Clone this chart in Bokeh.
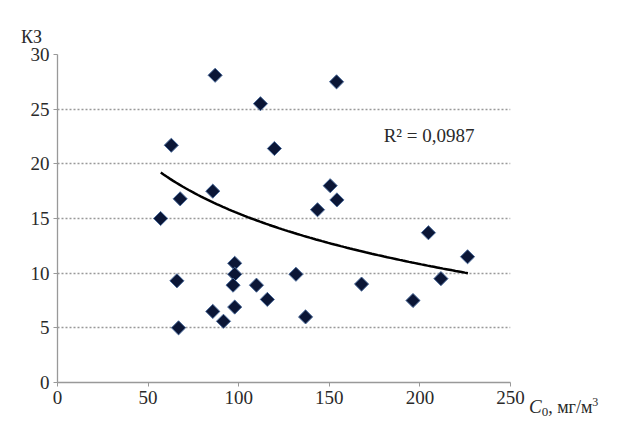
import numpy as np
from bokeh.plotting import figure
from bokeh.layouts import column
from bokeh.models import Label, ColumnDataSource, FixedTicker, Div
from bokeh.embed import file_html
from bokeh.resources import INLINE

# C0, mg/m3 and KZ values
c0 = [56.9, 62.8, 67.7, 65.9, 66.8, 87.0, 85.7, 85.7, 91.6, 97.8, 97.8, 96.9, 97.8,
      112.0, 109.8, 115.8, 119.7, 131.6, 136.9, 143.5, 150.5, 154.0, 154.2, 167.8,
      196.2, 204.7, 211.6, 226.3]
kz = [15.0, 21.7, 16.8, 9.3, 5.0, 28.1, 17.5, 6.5, 5.6, 10.9, 9.9, 8.9, 6.9,
      25.5, 8.9, 7.6, 21.4, 9.9, 6.0, 15.8, 18.0, 27.5, 16.7, 9.0,
      7.5, 13.7, 9.5, 11.5]
# log trend line y = a + b*ln(x)
trend_a = 46.17
trend_b = -6.67
trend_x = [57, 226.5]

FONT = "Liberation Serif"
TXT = "#2a2a2a"

p = figure(width=622, height=406, x_range=(0, 250), y_range=(0, 30),
           output_backend="svg", toolbar_location=None,
           min_border_left=57, min_border_right=112, min_border_top=54, min_border_bottom=19)
p.outline_line_color = None
p.xgrid.grid_line_color = None
p.ygrid.grid_line_color = "#999999"
p.ygrid.grid_line_dash = "2 2"
p.ygrid.grid_line_width = 1.3

for ax in (p.xaxis, p.yaxis):
    ax.axis_line_color = "#999999"
    ax.axis_line_width = 1.3
    ax.major_tick_line_color = "#999999"
    ax.minor_tick_line_color = None
    ax.major_label_text_font = FONT
    ax.major_label_text_font_size = "19px"
    ax.major_label_text_color = TXT
    ax.major_tick_out = 4
    ax.major_tick_in = 0
    ax.major_label_standoff = 4
p.xaxis.ticker = FixedTicker(ticks=[0, 50, 100, 150, 200, 250])
p.yaxis.ticker = FixedTicker(ticks=[0, 5, 10, 15, 20, 25, 30])

xs = np.linspace(trend_x[0], trend_x[1], 100)
p.line(xs, trend_a + trend_b * np.log(xs), line_color="black", line_width=2.5)

src = ColumnDataSource(data=dict(x=c0, y=kz))
p.scatter("x", "y", source=src, marker="square", angle=np.pi / 4, size=10,
          fill_color="#0b1636", line_color="#4a6a9a", line_width=1)

p.add_layout(Label(x=180, y=21.6, text="R² = 0,0987", text_font=FONT,
                   text_font_size="19px", text_color=TXT))

span = "position:absolute;white-space:nowrap;font-family:'Liberation Serif';color:%s;" % TXT
html = (
    '<div style="position:relative;width:622px;height:0;overflow:visible">'
    f'<span style="{span}left:16px;top:-398px;font-size:18px">КЗ</span>'
    f'<span style="{span}left:524px;top:-30px;font-size:18px">'
    '<i style="font-size:19px">C</i><sub style="font-size:13px;vertical-align:-3px">0</sub>, мг/м'
    '<sup style="font-size:12px">3</sup></span>'
    '</div>'
)
titles = Div(text=html, width=622, height=1, styles={"overflow": "visible"})

layout = column(p, titles, spacing=0)
open("out.html", "w").write(file_html(layout, INLINE))
